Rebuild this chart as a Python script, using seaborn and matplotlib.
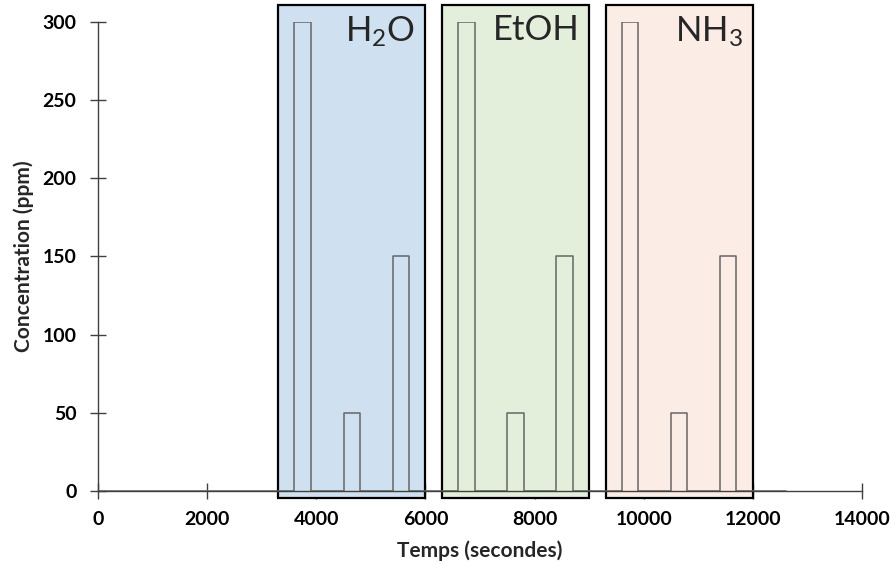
import numpy as np
import pandas as pd
import matplotlib
matplotlib.use('Agg')
import matplotlib.pyplot as plt
from matplotlib.patches import Rectangle
import seaborn as sns

# pulse sequence (seconds, ppm)
pulse_start = [3600, 4500, 5400, 6600, 7500, 8400, 9600, 10500, 11400]
pulse_end = [3900, 4800, 5700, 6900, 7800, 8700, 9900, 10800, 11700]
pulse_ppm = [300, 50, 150, 300, 50, 150, 300, 50, 150]
t_first = 0
t_last = 12600

# gas zones
gas_names = ['H$_2$O', 'EtOH', 'NH$_3$']
gas_start = [3300, 6300, 9300]
gas_end = [6000, 9000, 12000]
gas_colors = ['#cfe0f1', '#e3eedb', '#fbece6']

x_ticks = [0, 2000, 4000, 6000, 8000, 10000, 12000, 14000]
y_ticks = [0, 50, 100, 150, 200, 250, 300]

# build the step trace from the pulse table
t = [t_first]
c = [0]
for s, e, p in zip(pulse_start, pulse_end, pulse_ppm):
    t += [s, s, e, e]
    c += [0, p, p, 0]
t.append(t_last)
c.append(0)
trace = pd.DataFrame({'temps': t, 'ppm': c})

sns.set_style('white')
plt.rcParams['font.family'] = ['Lato', 'DejaVu Sans']
plt.rcParams['mathtext.default'] = 'regular'

fig = plt.figure(figsize=(8.93, 5.62), dpi=100)
ax = fig.add_axes([0.1097, 0.1263, 0.8556, 0.8346])

for name, s, e, col in zip(gas_names, gas_start, gas_end, gas_colors):
    ax.add_patch(Rectangle((s, -4.5), e - s, 315.5, facecolor=col, edgecolor='black',
                           linewidth=1.6, clip_on=False, zorder=1))
    ax.text(e - 180, 305, name, ha='right', va='top', fontsize=25, zorder=3)

sns.lineplot(data=trace, x='temps', y='ppm', sort=False, estimator=None,
             color='#666666', linewidth=1.1, ax=ax, zorder=2)

ax.set_xlim(0, 14000)
ax.set_ylim(0, 300)
ax.set_xticks(x_ticks)
ax.set_yticks(y_ticks)
ax.spines['top'].set_visible(False)
ax.spines['right'].set_visible(False)
for sp in ['left', 'bottom']:
    ax.spines[sp].set_color('#404040')
    ax.spines[sp].set_linewidth(1.0)
ax.tick_params(bottom=True, left=True, direction='inout', length=11, width=1.0,
               color='#404040', labelsize=14, labelcolor='black')
ax.tick_params(axis='x', pad=9)
ax.tick_params(axis='y', pad=10)
for lab in ax.get_xticklabels() + ax.get_yticklabels():
    lab.set_fontweight('bold')
ax.set_xlabel('Temps (secondes)', fontsize=15, fontweight='bold', labelpad=9)
ax.set_ylabel('Concentration (ppm)', fontsize=15, fontweight='bold', labelpad=6)

plt.savefig('out.png', dpi=100)
